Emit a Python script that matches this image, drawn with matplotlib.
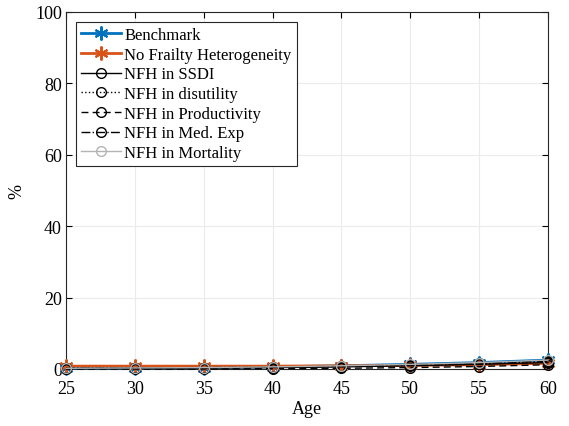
import numpy as np
import matplotlib.pyplot as plt

plt.rcParams['font.family'] = ['Liberation Serif', 'DejaVu Serif']
plt.rcParams['mathtext.fontset'] = 'stix'

# -----------------------------------------------------------
# data (percent)
# -----------------------------------------------------------
ages = [25, 30, 35, 40, 45, 50, 55, 60]
benchmark = [0.2, 0.3, 0.4, 0.6, 0.9, 1.3, 1.8, 2.5]
no_frailty = [0.8, 0.8, 0.8, 0.8, 0.9, 1.0, 1.2, 1.6]
nfh_ssdi = [0.1, 0.2, 0.3, 0.4, 0.6, 0.9, 1.3, 1.8]
nfh_disutility = [0.3, 0.3, 0.4, 0.5, 0.7, 1.0, 1.4, 2.0]
nfh_productivity = [0.0, 0.0, 0.0, 0.1, 0.2, 0.4, 0.7, 1.2]
nfh_medexp = [0.2, 0.3, 0.4, 0.5, 0.8, 1.2, 1.6, 2.2]
nfh_mortality = [0.2, 0.3, 0.4, 0.6, 0.9, 1.3, 1.8, 2.5]

blue = (0, 0.447, 0.741)
orange = (0.85, 0.325, 0.098)
gray = (0.7, 0.7, 0.7)
star = (6, 2, 0)  # matlab-style asterisk

fig = plt.figure(figsize=(5.69, 4.27), dpi=100)
ax = fig.add_axes([66 / 569, 1 - 370 / 427, (548 - 66) / 569, (370 - 13) / 427])

series = [
    (benchmark, 'Benchmark', dict(color=blue, lw=2, marker=star, ms=10, mew=1.5)),
    (no_frailty, 'No Frailty Heterogeneity', dict(color=orange, lw=2, marker=star, ms=10, mew=1.5)),
    (nfh_ssdi, 'NFH in SSDI', dict(color='k', lw=1, ls='-', marker='o', ms=7, mfc='none')),
    (nfh_disutility, 'NFH in disutility', dict(color='k', lw=1, ls=':', marker='o', ms=7, mfc='none')),
    (nfh_productivity, 'NFH in Productivity', dict(color='k', lw=1, ls=(0, (5, 3)), marker='o', ms=7, mfc='none')),
    (nfh_medexp, 'NFH in Med. Exp', dict(color='k', lw=1, ls='-.', marker='o', ms=7, mfc='none')),
    (nfh_mortality, 'NFH in Mortality', dict(color=gray, lw=1, ls='-', marker='o', ms=7, mfc='none')),
]
for vals, label, style in series:
    ax.plot(ages, vals, label=label, clip_on=False, zorder=3, **style)

ax.set_xlim(25, 60)
ax.set_ylim(0, 100)
ax.set_xticks(ages)
ax.set_yticks(np.arange(0, 101, 20))
ax.grid(True, color=(0.92, 0.92, 0.92), lw=0.8)
ax.set_axisbelow(True)
ax.tick_params(direction='in', top=True, right=True, labelsize=13, length=4)
ax.tick_params(axis='y', pad=3)
ax.tick_params(axis='x', pad=8)
for s in ax.spines.values():
    s.set_linewidth(0.8)
    s.set_color((0.15, 0.15, 0.15))
ax.set_xlabel('Age', fontsize=13, labelpad=2)
ax.set_ylabel('%', fontsize=13, labelpad=7)

leg = ax.legend(loc='upper left', fontsize=12, handlelength=2.4, handletextpad=0.2,
                borderpad=0.3, labelspacing=0.22, fancybox=False, framealpha=1,
                edgecolor=(0.15, 0.15, 0.15), borderaxespad=0.6)
leg.get_frame().set_linewidth(0.8)

fig.savefig('out.png', dpi=100)
